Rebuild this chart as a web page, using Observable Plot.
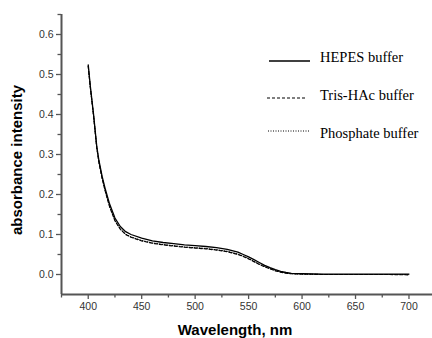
<!DOCTYPE html>
<html>
<head>
<meta charset="utf-8">
<script src="https://cdn.jsdelivr.net/npm/d3@7"></script>
<script src="https://cdn.jsdelivr.net/npm/@observablehq/plot@0.6"></script>
<style>
  html, body { margin: 0; padding: 0; background: #fff; }
</style>
</head>
<body>
<div id="chart"></div>
<script>
const wavelengths = [400,402,405,408,410,413,416,420,425,430,435,440,450,460,470,480,490,500,510,520,530,540,545,550,555,560,565,570,575,580,585,590,600,620,650,680,700];
const hepes     = [0.524,0.47,0.40,0.32,0.285,0.245,0.213,0.176,0.141,0.12,0.107,0.100,0.091,0.084,0.080,0.077,0.074,0.072,0.070,0.067,0.063,0.056,0.050,0.044,0.037,0.030,0.023,0.017,0.012,0.008,0.005,0.003,0.002,0.001,0.001,0.001,0.001];
const trisHAc   = [0.520,0.466,0.396,0.316,0.280,0.240,0.207,0.169,0.134,0.113,0.100,0.093,0.084,0.078,0.074,0.071,0.068,0.066,0.064,0.061,0.057,0.050,0.045,0.039,0.032,0.025,0.019,0.014,0.009,0.006,0.003,0.002,0.001,0.000,0.000,0.000,-0.001];
const phosphate = [0.521,0.467,0.397,0.317,0.281,0.241,0.208,0.170,0.135,0.114,0.101,0.094,0.085,0.079,0.075,0.072,0.069,0.067,0.065,0.062,0.058,0.051,0.046,0.040,0.033,0.026,0.020,0.015,0.010,0.006,0.004,0.002,0.001,0.000,0.000,0.000,0.000];

const seriesNames = ["HEPES buffer", "Tris-HAc buffer", "Phosphate buffer"];
const xTicks = [400,450,500,550,600,650,700];
const xMinor = [375,425,475,525,575,625,675,725];
const yTicks = [0.0,0.1,0.2,0.3,0.4,0.5,0.6];
const yMinor = [0.05,0.15,0.25,0.35,0.45,0.55,0.65];
const xDomain = [375, 722];
const yDomain = [-0.05, 0.65];

const toRows = vals => wavelengths.map((w, i) => ({w, v: vals[i]}));

const axisColor = "#555";
const W = 432, H = 338;
const plot = Plot.plot({
  width: W,
  height: H,
  marginLeft: 61,
  marginRight: 0,
  marginTop: 14,
  marginBottom: 44,
  style: {fontFamily: "'Liberation Sans', Arial, sans-serif", fontSize: "10.5px", background: "#fff", color: "#333"},
  x: {domain: xDomain},
  y: {domain: yDomain},
  marks: [
    Plot.axisY(yTicks, {tickSize: 5, tickPadding: 3, stroke: axisColor, fill: "#333", strokeWidth: 1.3, tickFormat: d3.format(".1f"), label: null}),
    Plot.axisY(yMinor, {tickSize: 3.5, stroke: axisColor, strokeWidth: 1.3, tickFormat: () => "", label: null}),
    Plot.axisX(xTicks, {tickSize: 5, tickPadding: 3, stroke: axisColor, fill: "#333", strokeWidth: 1.3, label: null}),
    Plot.axisX(xMinor, {tickSize: 3.5, stroke: axisColor, strokeWidth: 1.3, tickFormat: () => "", label: null}),
    Plot.ruleX([xDomain[0]], {stroke: axisColor, strokeWidth: 2}),
    Plot.ruleY([yDomain[0]], {stroke: axisColor, strokeWidth: 2}),
    Plot.line(toRows(phosphate), {x: "w", y: "v", stroke: "#000", strokeWidth: 1, strokeDasharray: "1,1.5"}),
    Plot.line(toRows(trisHAc), {x: "w", y: "v", stroke: "#000", strokeWidth: 1.1, strokeDasharray: "3,2"}),
    Plot.line(toRows(hepes), {x: "w", y: "v", stroke: "#000", strokeWidth: 1.3})
  ]
});

const svg = d3.select(plot);
// axis titles
svg.append("text")
  .attr("x", 235).attr("y", 335)
  .attr("text-anchor", "middle")
  .attr("font-family", "'Liberation Sans', Arial, sans-serif")
  .attr("font-weight", "bold").attr("font-size", 15).attr("fill", "#000")
  .text("Wavelength, nm");
svg.append("text")
  .attr("transform", "translate(16,160) rotate(-90)")
  .attr("text-anchor", "middle")
  .attr("dominant-baseline", "central")
  .attr("font-family", "'Liberation Sans', Arial, sans-serif")
  .attr("font-weight", "bold").attr("font-size", 15).attr("fill", "#000")
  .text("absorbance intensity");

// legend
const legendStyles = [
  {dash: null, width: 1.3, x1: 269, x2: 310, ly: 61, ty: 62},
  {dash: "3,2", width: 1.1, x1: 267, x2: 306, ly: 98, ty: 100},
  {dash: "1,1.5", width: 1, x1: 268, x2: 309, ly: 131, ty: 138}
];
const lg = svg.append("g");
seriesNames.forEach((name, i) => {
  const s = legendStyles[i];
  lg.append("line")
    .attr("x1", s.x1).attr("x2", s.x2).attr("y1", s.ly).attr("y2", s.ly)
    .attr("stroke", "#000").attr("stroke-width", s.width)
    .attr("stroke-dasharray", s.dash);
  lg.append("text")
    .attr("x", 320).attr("y", s.ty)
    .attr("text-anchor", "start")
    .attr("font-family", "'Liberation Serif', 'Times New Roman', serif")
    .attr("font-size", 14.5).attr("fill", "#000")
    .text(name);
});

document.getElementById("chart").appendChild(plot);
</script>
</body>
</html>
